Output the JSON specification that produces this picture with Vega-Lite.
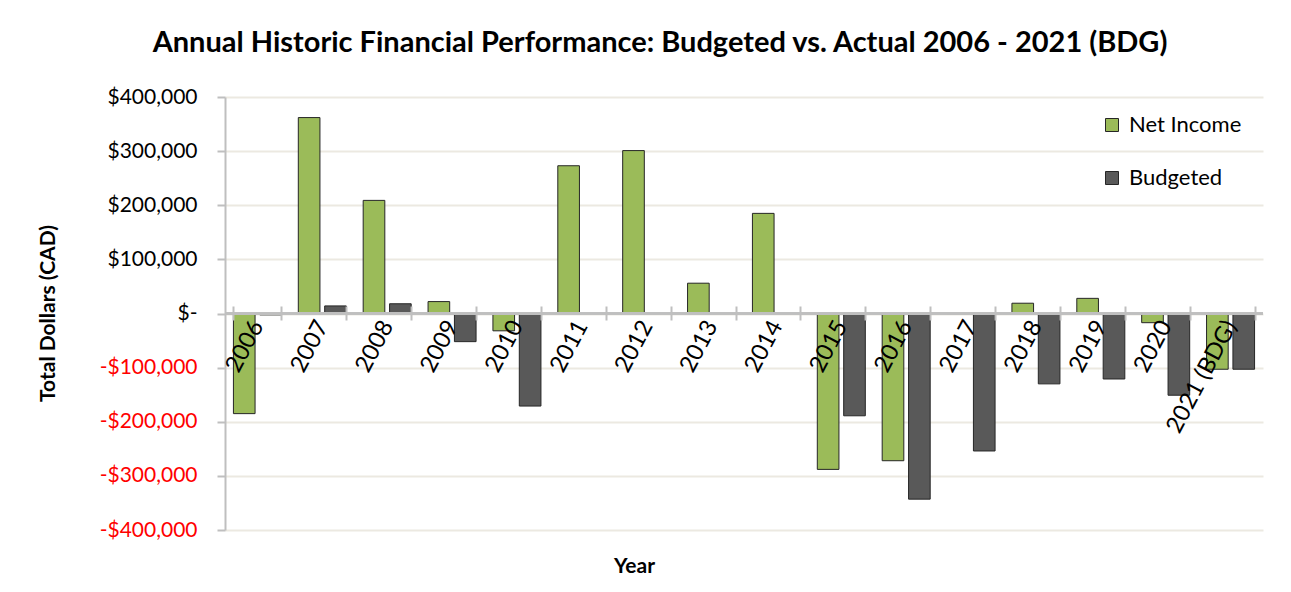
{
  "$schema": "https://vega.github.io/schema/vega-lite/v6.json",
  "width": 1038,
  "height": 433,
  "autosize": {"type": "none"},
  "padding": {"left": 225, "top": 97, "right": 28, "bottom": 62},
  "background": "white",
  "config": {"font": "Lato", "view": {"stroke": null}},
  "title": {
    "text": "Annual Historic Financial Performance: Budgeted vs. Actual 2006 - 2021 (BDG)",
    "font": "Lato",
    "fontSize": 29,
    "fontWeight": "bold",
    "color": "black",
    "anchor": "middle",
    "dx": -84,
    "offset": 28
  },
  "data": {
    "values": [
      {"Year": "2006", "Series": "Net Income", "Value": -185000},
      {"Year": "2006", "Series": "Budgeted", "Value": -2500},
      {"Year": "2007", "Series": "Net Income", "Value": 362000},
      {"Year": "2007", "Series": "Budgeted", "Value": 14000},
      {"Year": "2008", "Series": "Net Income", "Value": 209000},
      {"Year": "2008", "Series": "Budgeted", "Value": 18000},
      {"Year": "2009", "Series": "Net Income", "Value": 22000},
      {"Year": "2009", "Series": "Budgeted", "Value": -52000},
      {"Year": "2010", "Series": "Net Income", "Value": -32000},
      {"Year": "2010", "Series": "Budgeted", "Value": -171000},
      {"Year": "2011", "Series": "Net Income", "Value": 273000},
      {"Year": "2012", "Series": "Net Income", "Value": 301000},
      {"Year": "2013", "Series": "Net Income", "Value": 56000},
      {"Year": "2014", "Series": "Net Income", "Value": 185000},
      {"Year": "2015", "Series": "Net Income", "Value": -288000},
      {"Year": "2015", "Series": "Budgeted", "Value": -189000},
      {"Year": "2016", "Series": "Net Income", "Value": -272000},
      {"Year": "2016", "Series": "Budgeted", "Value": -343000},
      {"Year": "2017", "Series": "Net Income", "Value": -1500},
      {"Year": "2017", "Series": "Budgeted", "Value": -254000},
      {"Year": "2018", "Series": "Net Income", "Value": 19000},
      {"Year": "2018", "Series": "Budgeted", "Value": -130000},
      {"Year": "2019", "Series": "Net Income", "Value": 28000},
      {"Year": "2019", "Series": "Budgeted", "Value": -121000},
      {"Year": "2020", "Series": "Net Income", "Value": -17000},
      {"Year": "2020", "Series": "Budgeted", "Value": -151000},
      {"Year": "2021 (BDG)", "Series": "Net Income", "Value": -103000},
      {"Year": "2021 (BDG)", "Series": "Budgeted", "Value": -103000}
    ]
  },
  "layer": [
    {
      "mark": {"type": "bar", "stroke": "#262626", "strokeWidth": 1},
      "encoding": {
        "x": {
          "field": "Year",
          "type": "nominal",
          "sort": null,
          "scale": {"paddingInner": 0.26, "paddingOuter": 0.13},
          "axis": {
            "orient": "bottom",
            "offset": -224,
            "zindex": 2,
            "domain": false,
            "ticks": true,
            "tickBand": "extent",
            "tickColor": "#bfbfbf",
            "tickWidth": 2,
            "tickSize": 14,
            "grid": false,
            "labelAngle": -62,
            "labelFont": "Lato",
            "labelFontSize": 23.5,
            "labelColor": "black",
            "labelPadding": 2,
            "labelOverlap": false,
            "labelBound": false,
            "title": "Year",
            "titleFont": "Lato",
            "titleFontSize": 21,
            "titleFontWeight": "bold",
            "titleColor": "black",
            "titleX": 409,
            "titleY": 260,
            "titleAlign": "center",
            "titleBaseline": "middle"
          }
        },
        "xOffset": {
          "field": "Series",
          "sort": ["Net Income", "Budgeted"],
          "scale": {"paddingInner": 0.18, "paddingOuter": 0}
        },
        "y": {
          "field": "Value",
          "type": "quantitative",
          "scale": {"domain": [-400000, 400000], "nice": false, "zero": false},
          "axis": {
            "values": [-400000, -300000, -200000, -100000, 0, 100000, 200000, 300000, 400000],
            "labelExpr": "datum.value == 0 ? '$-' : (datum.value < 0 ? '-$' : '$') + format(abs(datum.value), ',')",
            "labelColor": {"condition": {"test": "datum.value < 0", "value": "#ff0000"}, "value": "black"},
            "labelFont": "Lato",
            "labelFontSize": 21,
            "labelPadding": 20,
            "domainColor": "#bfbfbf",
            "domainWidth": 2,
            "tickColor": "#bfbfbf",
            "tickWidth": 2,
            "tickSize": 8,
            "grid": true,
            "gridColor": "#ece9e1",
            "gridWidth": 2,
            "title": "Total Dollars (CAD)",
            "titleFont": "Lato",
            "titleFontSize": 21,
            "titleFontWeight": "bold",
            "titleColor": "black",
            "titleAngle": -90,
            "titleX": -177,
            "titleY": 216,
            "titleAlign": "center",
            "titleBaseline": "middle"
          }
        },
        "color": {
          "field": "Series",
          "type": "nominal",
          "scale": {"domain": ["Net Income", "Budgeted"], "range": ["#9BBB59", "#595959"]},
          "legend": {
            "orient": "none",
            "legendX": 876,
            "legendY": 17,
            "title": null,
            "padding": 0,
            "symbolType": "square",
            "symbolSize": 169,
            "symbolStrokeColor": "#262626",
            "symbolStrokeWidth": 1,
            "labelFont": "Lato",
            "labelFontSize": 22,
            "labelColor": "black",
            "labelOffset": 6,
            "rowPadding": 31
          }
        }
      }
    },
    {
      "mark": {"type": "rule", "color": "#bfbfbf", "strokeWidth": 2},
      "encoding": {"y": {"datum": 0}}
    }
  ]
}
